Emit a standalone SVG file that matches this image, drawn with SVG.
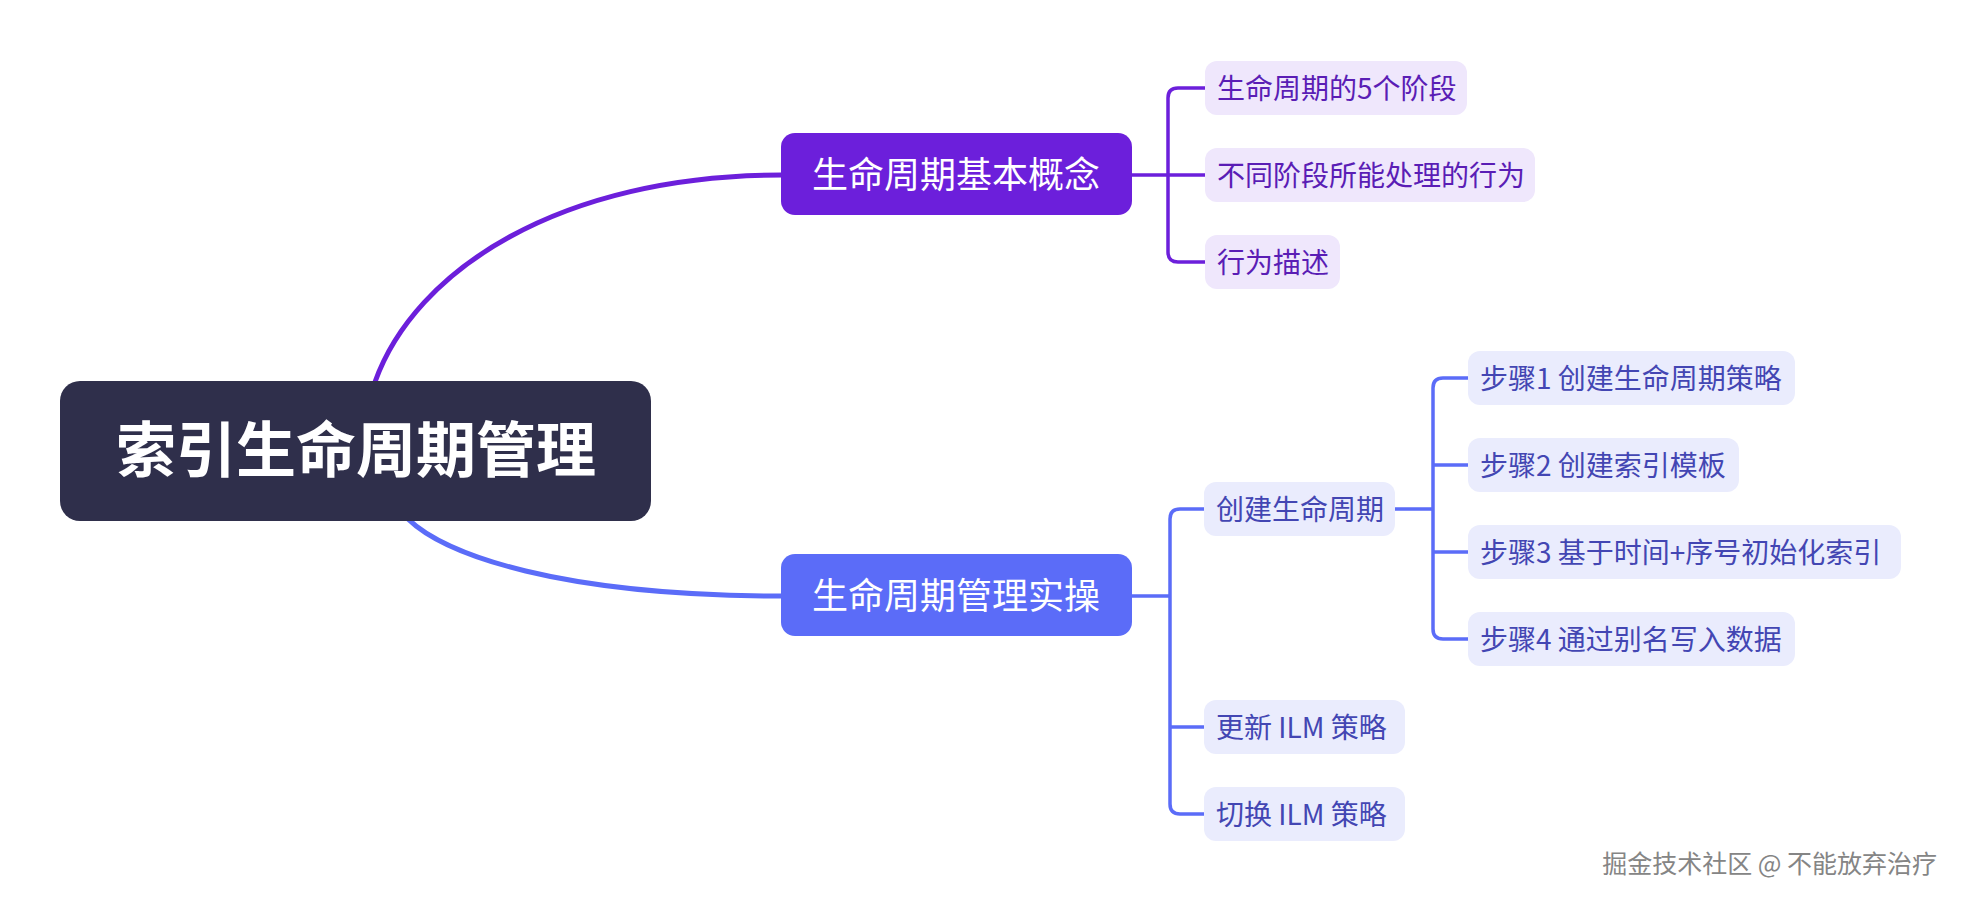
<svg xmlns="http://www.w3.org/2000/svg" width="1962" height="902" viewBox="0 0 1962 902">
<style>
text{font-family:"Noto Sans CJK SC","Noto Sans",sans-serif}
.root{fill:#fff;font-size:60px;font-weight:bold;text-anchor:middle}
.main{fill:#fff;font-size:36px;text-anchor:middle}
.c1 rect{fill:#efe7fc}
.c1 text{fill:#5a1db5;font-size:28px}
.c2 rect{fill:#eaecfd}
.c2 text{fill:#4346b3;font-size:28px}
.l1{fill:none;stroke:#6c1fdb;stroke-width:3.5;stroke-linecap:round}
.l2{fill:none;stroke:#5b6cf8;stroke-width:3.5;stroke-linecap:round}
.wm{fill:#858585;font-size:25px;text-anchor:end;stroke:#fff;stroke-width:0.6;paint-order:stroke}
</style>
<rect width="1962" height="902" fill="#fff"/>
<g id="connectors">
<path class="l1" style="stroke-width:5" d="M375,382 C415,270 560,175 782,175"/>
<path class="l2" style="stroke-width:5" d="M408,519 C445,555 560,596 782,596"/>
<path class="l1" d="M1131,175 H1207 M1207,88 H1178 Q1168,88 1168,98 V252 Q1168,262 1178,262 H1207"/>
<path class="l2" d="M1131,596 H1170 M1204,509 H1180 Q1170,509 1170,519 V804 Q1170,814 1180,814 H1204 M1170,727 H1204"/>
<path class="l2" d="M1394,509 H1433 M1468,378 H1443 Q1433,378 1433,388 V629 Q1433,639 1443,639 H1468 M1433,465 H1468 M1433,552 H1468"/>
</g>
<g id="root">
<rect x="60" y="381" width="591" height="140" rx="20" fill="#2f2f4b"/>
<text class="root" x="356" y="472">索引生命周期管理</text>
</g>
<g id="n1">
<rect x="781" y="133" width="351" height="82" rx="14" fill="#6c1fdb"/>
<text class="main" x="956" y="188">生命周期基本概念</text>
</g>
<g id="n2">
<rect x="781" y="554" width="351" height="82" rx="14" fill="#5b6cf8"/>
<text class="main" x="956" y="609">生命周期管理实操</text>
</g>
<g id="n1a" class="c1"><rect x="1205" y="61" width="262" height="54" rx="12"/><text x="1217" y="99">生命周期的5个阶段</text></g>
<g id="n1b" class="c1"><rect x="1205" y="148" width="330" height="54" rx="12"/><text x="1217" y="186">不同阶段所能处理的行为</text></g>
<g id="n1c" class="c1"><rect x="1205" y="235" width="135" height="54" rx="12"/><text x="1217" y="273">行为描述</text></g>
<g id="n2a" class="c2"><rect x="1204" y="482" width="191" height="54" rx="12"/><text x="1216" y="520">创建生命周期</text></g>
<g id="s1" class="c2"><rect x="1468" y="351" width="327" height="54" rx="12"/><text x="1480" y="389">步骤1 创建生命周期策略</text></g>
<g id="s2" class="c2"><rect x="1468" y="438" width="271" height="54" rx="12"/><text x="1480" y="476">步骤2 创建索引模板</text></g>
<g id="s3" class="c2"><rect x="1468" y="525" width="433" height="54" rx="12"/><text x="1480" y="563">步骤3 基于时间+序号初始化索引</text></g>
<g id="s4" class="c2"><rect x="1468" y="612" width="327" height="54" rx="12"/><text x="1480" y="650">步骤4 通过别名写入数据</text></g>
<g id="n2b" class="c2"><rect x="1204" y="700" width="201" height="54" rx="12"/><text x="1216" y="738">更新 ILM 策略</text></g>
<g id="n2c" class="c2"><rect x="1204" y="787" width="201" height="54" rx="12"/><text x="1216" y="825">切换 ILM 策略</text></g>
<text class="wm" x="1937" y="873">掘金技术社区 @ 不能放弃治疗</text>
</svg>
